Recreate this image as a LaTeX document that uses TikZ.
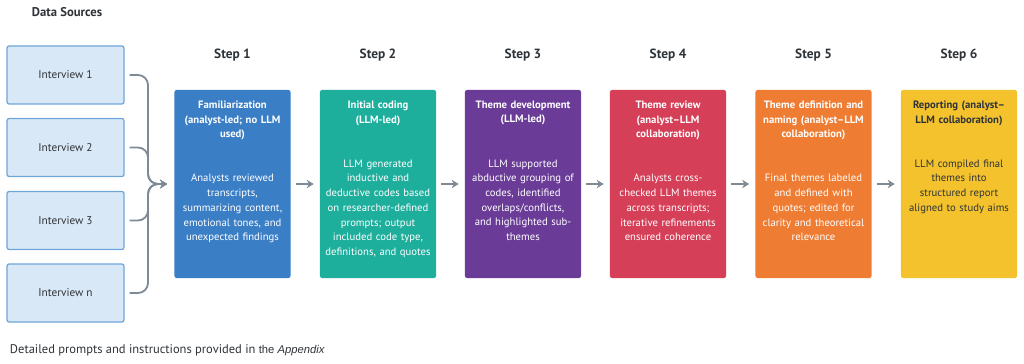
\documentclass[tikz,border=0pt]{standalone}
\usepackage{fontspec}
\setmainfont{PT Sans}
\usetikzlibrary{arrows.meta}
\definecolor{inktext}{HTML}{2E3338}
\definecolor{srcfill}{HTML}{D9E8F6}
\definecolor{srcline}{HTML}{6EA6DA}
\definecolor{flowgray}{HTML}{7E8A95}
\definecolor{stepblue}{HTML}{3A7EC6}
\definecolor{stepteal}{HTML}{1DAE9C}
\definecolor{steppurple}{HTML}{6A3C98}
\definecolor{stepred}{HTML}{D54058}
\definecolor{steporange}{HTML}{EE7C33}
\definecolor{stepyellow}{HTML}{F3C22C}
\tikzset{
    srcbox/.style={
        draw=srcline, fill=srcfill, line width=0.9pt, rounded corners=1.5pt,
        minimum width=2.925cm, minimum height=1.45cm,
        font=\fontsize{8}{10}\selectfont, text=inktext
    },
    stepbox/.style={
        rounded corners=1.5pt, inner sep=0pt,
        minimum width=2.9cm, minimum height=4.7cm
    },
    steptext/.style={
        anchor=north, text width=2.85cm, align=center, inner sep=0pt,
        text=white, font=\fontsize{7.6}{10.46}\selectfont
    },
    steplabel/.style={font=\bfseries\fontsize{9.5}{11}\selectfont, text=inktext},
    flow/.style={
        draw=flowgray, line width=1.3pt, -{Stealth[length=5pt,width=6pt]},
        shorten <=0.125cm, shorten >=0.15cm
    },
    brace/.style={
        draw=flowgray, line width=1.3pt, -{Stealth[length=5pt,width=6pt]},
        rounded corners=0.25cm, shorten <=0.125cm, shorten >=0.175cm
    }
}

\begin{document}
\begin{tikzpicture}[x=0.025cm, y=-0.025cm]
    \useasboundingbox (0,0) rectangle (1024,363);

    % data sources
    \node[anchor=west, font=\bfseries\fontsize{9}{11}\selectfont, text=inktext] (srctitle) at (27,12) {Data Sources};
    \node[srcbox] (iv1) at (65.5,75) {Interview 1};
    \node[srcbox] (iv2) at (65.5,147.5) {Interview 2};
    \node[srcbox] (iv3) at (65.5,220.5) {Interview 3};
    \node[srcbox] (iv4) at (65.5,293) {Interview n};
    \coordinate (join) at (148,184);

    % steps
    \node[stepbox, fill=stepblue]   (s1) at (232.5,184) {};
    \node[stepbox, fill=stepteal]   (s2) at (378,184) {};
    \node[stepbox, fill=steppurple] (s3) at (523,184) {};
    \node[stepbox, fill=stepred]    (s4) at (668,184) {};
    \node[stepbox, fill=steporange] (s5) at (813.5,184) {};
    \node[stepbox, fill=stepyellow] (s6) at (959,184) {};

    \foreach \i in {1,...,6}
        \node[steplabel] (lab\i) at (s\i |- 0,55) {Step \i};

    \node[steptext] (t1) at ([yshift=-0.27cm]s1.north) {{\bfseries Familiarization\\(analyst-led; no LLM\\used)}\\[2\baselineskip]
        Analysts reviewed\\transcripts,\\summarizing content,\\emotional tones, and\\unexpected findings};
    \node[steptext] (t2) at ([yshift=-0.27cm]s2.north) {{\bfseries Initial coding\\(LLM-led)}\\[2\baselineskip]
        LLM generated\\inductive and\\deductive codes based\\on researcher-defined\\prompts; output\\included code type,\\definitions, and quotes};
    \node[steptext] (t3) at ([yshift=-0.27cm]s3.north) {{\bfseries Theme development\\(LLM-led)}\\[2\baselineskip]
        LLM supported\\abductive grouping of\\codes, identified\\overlaps/conflicts,\\and highlighted sub-\\themes};
    \node[steptext] (t4) at ([yshift=-0.27cm]s4.north) {{\bfseries Theme review\\(analyst--LLM\\collaboration)}\\[2\baselineskip]
        Analysts cross-\\checked LLM themes\\across transcripts;\\iterative refinements\\ensured coherence};
    \node[steptext] (t5) at ([yshift=-0.27cm]s5.north) {{\bfseries Theme definition and\\naming (analyst--LLM\\collaboration)}\\[2\baselineskip]
        Final themes labeled\\and defined with\\quotes; edited for\\clarity and theoretical\\relevance};
    \node[steptext, text=inktext] (t6) at ([yshift=-0.27cm]s6.north) {{\bfseries Reporting (analyst--\\LLM collaboration)}\\[2\baselineskip]
        LLM compiled final\\themes into\\structured report\\aligned to study aims};

    % connectors
    \foreach \k in {1,...,4}
        \draw[brace] (iv\k.east) -| (join) -- (s1.west);
    \draw[flow] (s1) -- (s2);
    \draw[flow] (s2) -- (s3);
    \draw[flow] (s3) -- (s4);
    \draw[flow] (s4) -- (s5);
    \draw[flow] (s5) -- (s6);

    \node[anchor=west, font=\fontsize{8.9}{10}\selectfont, text=inktext] (note) at (5,350)
        {Detailed prompts and instructions provided in {\fontspec{Liberation Sans}\fontsize{8}{10}\selectfont the \itshape Appendix}};
\end{tikzpicture}
\end{document}
